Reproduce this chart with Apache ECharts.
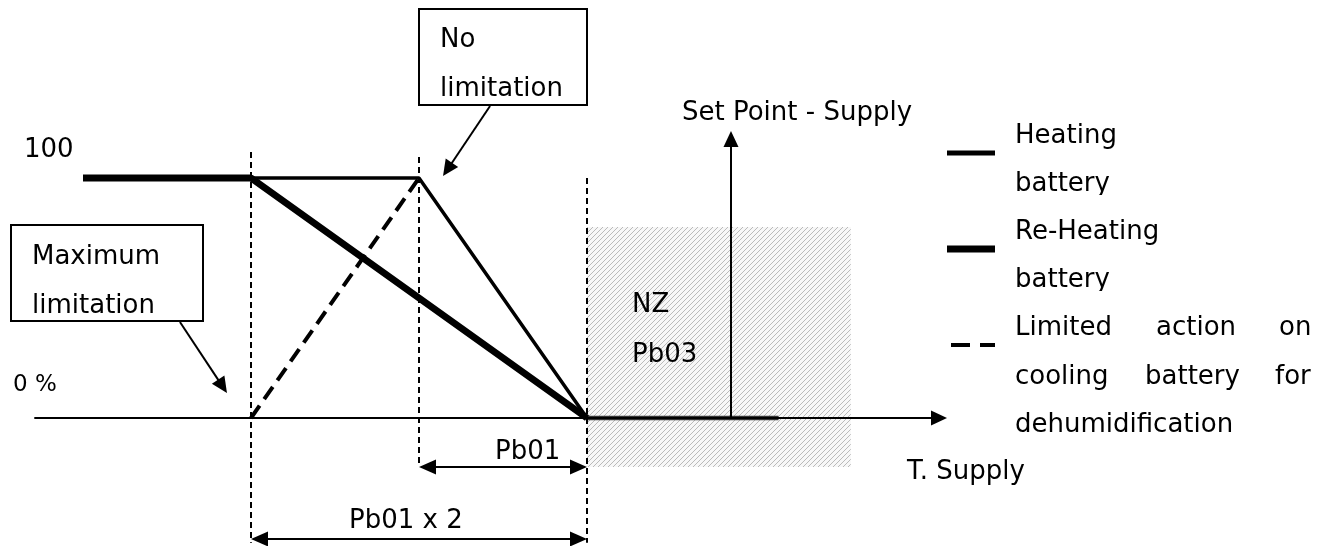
<!DOCTYPE html>
<html lang="en">
<head>
<meta charset="UTF-8">
<title>Pb01 / Pb03</title>
<style>
  html, body { margin: 0; padding: 0; background: #fff; }
  #chart { width: 1329px; height: 546px; }
</style>
</head>
<body>
<div id="chart"></div>
<script src="https://cdn.jsdelivr.net/npm/echarts@6/dist/echarts.min.js"></script>
<script>
// x in units of Pb01 (0 = start of neutral zone), y in %
var reheatingBattery = [[-3, 100], [-2, 100], [0, 0]];
var heatingBattery = [[-2, 100], [-1, 100], [0, 0]];
var coolingLimit = [[-2, 0], [-1, 100]];
var nzOutput = [[0, 0], [1.14, 0]];
var neutralZone = [[0, -20.4], [1.57, 79.6]];
var setPointX = 0.857;
var guideX = [-2, -1, 0];

// where the picture puts x = 0 and y = 0
var X0 = 587, UX = 168, Y0 = 418, UY = 2.4, W = 1329, H = 546;

var chart = echarts.init(document.getElementById('chart'));

// hatch for the neutral zone
var hatch = document.createElement('canvas');
hatch.width = 5; hatch.height = 5;
var hc = hatch.getContext('2d');
hc.fillStyle = '#f7f7f7';
hc.fillRect(0, 0, 5, 5);
hc.fillStyle = '#bababa';
for (var i = 0; i < 5; i++) hc.fillRect(i, 4 - i, 1, 1);

var FONT = '26px "DejaVu Sans", Verdana, sans-serif';
function txt(s, x, base, font) {
  return {
    type: 'text', x: x, y: base - 5, z: 10,
    style: { text: s, font: font || FONT, fill: '#000', verticalAlign: 'middle', textVerticalAlign: 'middle' }
  };
}
function box(x, y, w, h) {
  return { type: 'rect', z: 9, shape: { x: x, y: y, width: w, height: h },
    style: { fill: '#fff', stroke: '#000', lineWidth: 2 } };
}
// markLine centres the triangle on the end point, so pull the end back by half its length
function pullBack(from, to, px) {
  var dx = (to[0] - from[0]) * UX, dy = (to[1] - from[1]) * UY;
  var len = Math.sqrt(dx * dx + dy * dy);
  return [to[0] - dx / len * px / UX, to[1] - dy / len * px / UY];
}
function arrowLine(a, b) {
  return [{ coord: a, symbol: 'none' },
          { coord: pullBack(a, b, 8), symbol: 'triangle', symbolSize: [15, 16] }];
}
function dimLine(x1, x2, y) {
  return [{ coord: pullBack([x2, y], [x1, y], 8.5), symbol: 'triangle', symbolSize: [15, 17] },
          { coord: pullBack([x1, y], [x2, y], 8.5), symbol: 'triangle', symbolSize: [15, 17] }];
}

var option = {
  animation: false,
  grid: { left: 0, right: 0, top: 0, bottom: 0 },
  xAxis: { type: 'value', min: -X0 / UX, max: (W - X0) / UX, show: false },
  yAxis: { type: 'value', min: -(H - Y0) / UY, max: Y0 / UY, show: false },
  series: [
    {
      name: 'NZ', type: 'line', z: 1, silent: true,
      data: nzOutput, symbol: 'none',
      lineStyle: { color: '#353535', width: 4.5 },
      markArea: {
        silent: true,
        itemStyle: { color: { image: hatch, repeat: 'repeat' } },
        data: [[{ coord: neutralZone[0] }, { coord: neutralZone[1] }]]
      }
    },
    {
      name: 'guides', type: 'line', data: [], silent: true, z: 2,
      markLine: {
        silent: true, symbol: 'none', label: { show: false },
        lineStyle: { color: '#000', width: 2, type: [6, 4] },
        data: [
          [{ coord: [guideX[0], 110.8] }, { coord: [guideX[0], -52] }],
          [{ coord: [guideX[1], 108.8] }, { coord: [guideX[1], -20.4] }],
          [{ coord: [guideX[2], 100] }, { coord: [guideX[2], -52] }]
        ]
      }
    },
    {
      name: 'axes', type: 'line', data: [], silent: true, z: 3,
      markLine: {
        silent: true, label: { show: false },
        lineStyle: { color: '#000', width: 2, type: 'solid' },
        data: [
          arrowLine([-3.29, 0], [2.143, 0]),
          arrowLine([setPointX, 0], [setPointX, 119.6]),
          dimLine(-1, 0, -20.4),
          dimLine(-2, 0, -50.4)
        ]
      }
    },
    {
      name: 'notes', type: 'line', data: [], silent: true, z: 3,
      markLine: {
        silent: true, label: { show: false },
        lineStyle: { color: '#000', width: 2, type: 'solid' },
        data: [
          arrowLine([-2.423, 40], [-2.143, 10.4]),
          arrowLine([-0.577, 130], [-0.857, 100.8])
        ]
      }
    },
    {
      name: 'Heating battery', type: 'line', z: 4, silent: true,
      data: heatingBattery, symbol: 'none',
      lineStyle: { color: '#000', width: 3.5 }
    },
    {
      name: 'Re-Heating battery', type: 'line', z: 5, silent: true,
      data: reheatingBattery, symbol: 'none',
      lineStyle: { color: '#000', width: 7 }
    },
    {
      name: 'Limited action on cooling battery for dehumidification', type: 'line', z: 4, silent: true,
      data: coolingLimit, symbol: 'none',
      lineStyle: { color: '#000', width: 4, type: [15, 8] }
    }
  ],
  graphic: [
    txt('100', 24, 155),
    txt('0 %', 13, 390, '23px "DejaVu Sans", Verdana, sans-serif'),
    box(11, 225, 192, 96),
    txt('Maximum', 32, 262),
    txt('limitation', 32, 311),
    box(419, 9, 168, 96),
    txt('No', 440, 45),
    txt('limitation', 440, 94),
    txt('Set Point - Supply', 682, 118),
    txt('NZ', 632, 310),
    txt('Pb03', 632, 360),
    txt('Pb01', 495, 457),
    txt('Pb01 x 2', 349, 526),
    txt('T. Supply', 907, 477),
    // legend
    { type: 'line', z: 10, shape: { x1: 947, y1: 153, x2: 995, y2: 153 }, style: { stroke: '#000', lineWidth: 5 } },
    { type: 'line', z: 10, shape: { x1: 947, y1: 249, x2: 995, y2: 249 }, style: { stroke: '#000', lineWidth: 7 } },
    { type: 'line', z: 10, shape: { x1: 951, y1: 345, x2: 970, y2: 345 }, style: { stroke: '#000', lineWidth: 4 } },
    { type: 'line', z: 10, shape: { x1: 980, y1: 345, x2: 995, y2: 345 }, style: { stroke: '#000', lineWidth: 4 } },
    txt('Heating', 1015, 141),
    txt('battery', 1015, 189),
    txt('Re-Heating', 1015, 237),
    txt('battery', 1015, 285),
    txt('Limited', 1015, 333),
    txt('action', 1156, 333),
    txt('on', 1279, 333),
    txt('cooling', 1015, 382),
    txt('battery', 1145, 382),
    txt('for', 1275, 382),
    txt('dehumidification', 1015, 430),
    // the word "battery" is cut just under its baseline in the source
    { type: 'rect', z: 11, shape: { x: 1010, y: 195, width: 120, height: 16 }, style: { fill: '#fff' } },
    { type: 'rect', z: 11, shape: { x: 1010, y: 291, width: 120, height: 16 }, style: { fill: '#fff' } }
  ]
};
chart.setOption(option);
</script>
</body>
</html>
